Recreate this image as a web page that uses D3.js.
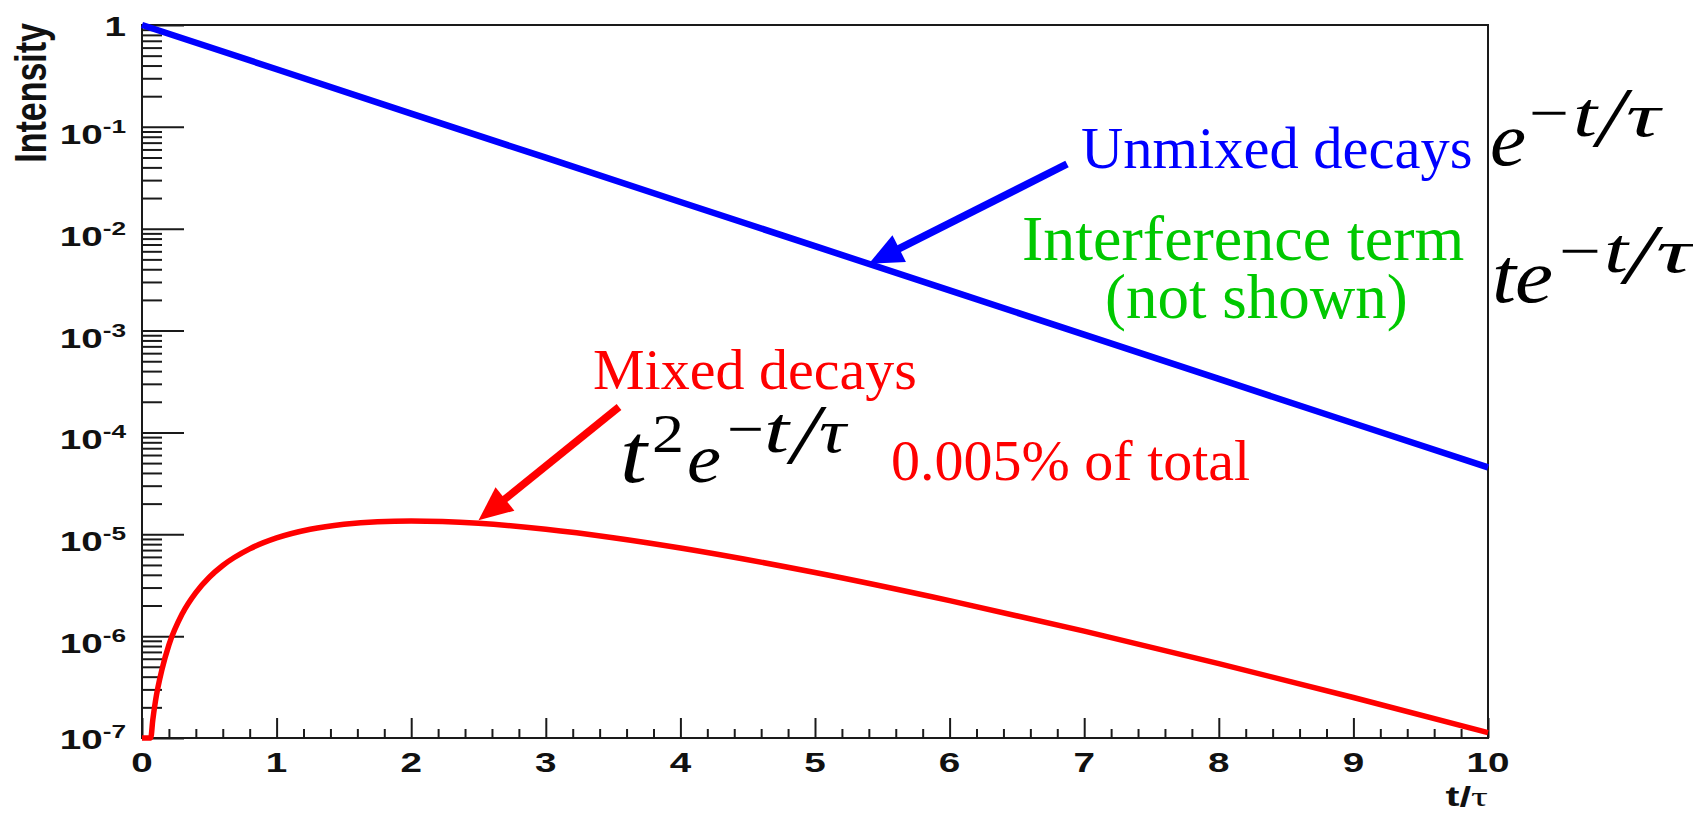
<!DOCTYPE html>
<html>
<head>
<meta charset="utf-8">
<title>Unmixed and mixed decays</title>
<script src="https://cdn.jsdelivr.net/npm/d3@7"></script>
<style>
  html, body { margin: 0; padding: 0; background: #ffffff; }
  svg { display: block; }
</style>
</head>
<body>
<svg id="chart" width="1693" height="813"></svg>
<script>
// ---- data -------------------------------------------------------------
// unmixed decay intensity, e^{-t/tau}
const unmixedT = [0, 1, 2, 3, 4, 5, 6, 7, 8, 9, 10];
const unmixedI = [1, 0.368, 0.135, 0.0498, 0.0183, 0.00674, 0.00248, 0.000912, 0.000335, 0.000123, 0.0000454];

// mixed decay intensity, t^2 e^{-t/tau} (0.005% of total)
const mixedT = [0, 0.05, 0.065, 0.08, 0.1, 0.15, 0.2, 0.3, 0.4, 0.5, 0.6, 0.8, 1.0, 1.25, 1.5, 1.75,
                2.0, 2.5, 3.0, 3.5, 4.0, 5.0, 6.0, 7.0, 8.0, 9.0, 10.0];
const mixedI = [0, 6.0e-8, 1.0e-7, 1.5e-7, 2.3e-7, 4.8e-7, 8.2e-7, 1.67e-6, 2.68e-6, 3.79e-6, 4.94e-6,
                7.19e-6, 9.2e-6, 1.12e-5, 1.255e-5, 1.33e-5, 1.35e-5, 1.28e-5, 1.12e-5, 9.25e-6,
                7.33e-6, 4.21e-6, 2.23e-6, 1.12e-6, 5.37e-7, 2.5e-7, 1.13e-7];

// axis ticks
const xMajor = [0, 1, 2, 3, 4, 5, 6, 7, 8, 9, 10];
const xLabels = ["0", "1", "2", "3", "4", "5", "6", "7", "8", "9", "10"];
const yMajor = [1, 1e-1, 1e-2, 1e-3, 1e-4, 1e-5, 1e-6, 1e-7];
const yExponents = ["", "-1", "-2", "-3", "-4", "-5", "-6", "-7"];
const yMinorMultipliers = [2, 3, 4, 5, 6, 7, 8, 9];

// ---- layout -----------------------------------------------------------
const frame = { left: 142, right: 1488, top: 25, bottom: 738 };
const AXIS_COLOR = "#1a1a1a";
const SANS = "'Liberation Sans', Arial, Helvetica, sans-serif";
const SERIF = "'Liberation Serif', 'Times New Roman', Times, serif";
const LABEL_STRETCH = 1.38;   // tick labels are drawn wide
const BLUE = "#0000ff", RED = "#ff0000", GREEN = "#00c800";

const svg = d3.select("#chart");

const x = d3.scaleLinear().domain([0, 10]).range([frame.left, frame.right]);
const y = d3.scaleLog().domain([1e-7, 1]).range([frame.bottom, frame.top]);
const yMin = y.domain()[0];

// ---- frame ------------------------------------------------------------
svg.append("rect")
  .attr("x", frame.left).attr("y", frame.top)
  .attr("width", frame.right - frame.left).attr("height", frame.bottom - frame.top)
  .attr("fill", "none").attr("stroke", AXIS_COLOR).attr("stroke-width", 2);

// ---- y axis ticks (pointing into the frame) ---------------------------
const yMinor = [];
yMajor.slice(0, -1).forEach(d => yMinorMultipliers.forEach(m => yMinor.push(d * m / 10)));

function styleTicks(g) {
  g.select(".domain").remove();
  g.selectAll(".tick line").attr("stroke", AXIS_COLOR).attr("stroke-width", 2);
  g.selectAll(".tick text").remove();
}

svg.append("g")
  .attr("transform", `translate(${frame.left},0)`)
  .call(d3.axisLeft(y).tickValues(yMajor).tickSize(-42).tickFormat(""))
  .call(styleTicks);
svg.append("g")
  .attr("transform", `translate(${frame.left},0)`)
  .call(d3.axisLeft(y).tickValues(yMinor).tickSize(-20).tickFormat(""))
  .call(styleTicks);

// ---- x axis ticks (pointing up) ---------------------------------------
const xMinor = [];
xMajor.slice(0, -1).forEach(d => [0.2, 0.4, 0.6, 0.8].forEach(f => xMinor.push(d + f)));

svg.append("g")
  .attr("transform", `translate(0,${frame.bottom})`)
  .call(d3.axisBottom(x).tickValues(xMajor).tickSize(-20).tickFormat(""))
  .call(styleTicks);
svg.append("g")
  .attr("transform", `translate(0,${frame.bottom})`)
  .call(d3.axisBottom(x).tickValues(xMinor).tickSize(-9).tickFormat(""))
  .call(styleTicks);

// ---- tick labels ------------------------------------------------------
// widen a text element horizontally while keeping its glyph height
function widen(sel, factor) {
  const w = sel.node().getComputedTextLength();
  sel.attr("textLength", w * factor).attr("lengthAdjust", "spacingAndGlyphs");
}

const yLab = svg.append("g").attr("font-family", SANS).attr("font-weight", "bold").attr("fill", "#111");
yMajor.forEach((v, i) => {
  const edge = (i === 0 || i === yMajor.length - 1);
  const t = yLab.append("text")
    .attr("x", 126).attr("y", y(v) + (edge ? 11 : 17))
    .attr("text-anchor", "end").attr("font-size", 28);
  if (yExponents[i] === "") {
    t.text("1");
  } else {
    t.append("tspan").text("10");
    t.append("tspan").attr("font-size", 19).attr("dy", -11).text(yExponents[i]);
  }
  widen(t, LABEL_STRETCH);
});

const xLab = svg.append("g").attr("font-family", SANS).attr("font-weight", "bold").attr("fill", "#111");
xMajor.forEach((v, i) => {
  const t = xLab.append("text")
    .attr("x", x(v)).attr("y", 772)
    .attr("text-anchor", "middle").attr("font-size", 28).text(xLabels[i]);
  widen(t, LABEL_STRETCH);
});

// axis titles
const xt = svg.append("text")
  .attr("x", frame.right).attr("y", 806)
  .attr("text-anchor", "end").attr("font-size", 28).attr("fill", "#111");
xt.append("tspan").attr("font-family", SANS).attr("font-weight", "bold").text("t/");
xt.append("tspan").attr("font-family", SERIF).text("τ");
widen(xt, 1.5);

svg.append("g")
  .attr("transform", `translate(46,23) scale(1.28,1) rotate(-90)`)
  .append("text")
  .attr("text-anchor", "end")
  .attr("font-family", SANS).attr("font-weight", "bold").attr("font-size", 34)
  .attr("fill", "#111")
  .text("Intensity");

// ---- curves -----------------------------------------------------------
const clampY = v => y(Math.max(v, yMin));

const unmixedLine = d3.line()
  .x((d, i) => x(unmixedT[i]))
  .y(d => clampY(d))
  .curve(d3.curveLinear);

const mixedLine = d3.line()
  .x((d, i) => x(mixedT[i]))
  .y(d => clampY(d))
  .curve(d3.curveMonotoneX);

svg.append("path")
  .datum(unmixedI)
  .attr("d", unmixedLine)
  .attr("fill", "none").attr("stroke", BLUE).attr("stroke-width", 6.5)
  .attr("stroke-linejoin", "round");

svg.append("path")
  .datum(mixedI)
  .attr("d", mixedLine)
  .attr("fill", "none").attr("stroke", RED).attr("stroke-width", 5.5)
  .attr("stroke-linejoin", "round");

// ---- arrows -----------------------------------------------------------
function arrow(from, to, color) {
  const dx = to[0] - from[0], dy = to[1] - from[1];
  const len = Math.hypot(dx, dy), ux = dx / len, uy = dy / len;
  const headLen = 34, headHalf = 15;
  const bx = to[0] - ux * headLen, by = to[1] - uy * headLen;
  svg.append("line")
    .attr("x1", from[0]).attr("y1", from[1]).attr("x2", bx + ux * 4).attr("y2", by + uy * 4)
    .attr("stroke", color).attr("stroke-width", 7.5);
  svg.append("path")
    .attr("d", `M${to[0]},${to[1]} L${bx - uy * headHalf},${by + ux * headHalf} L${bx + uy * headHalf},${by - ux * headHalf} Z`)
    .attr("fill", color);
}

// value on the unmixed line between two samples (log-linear along the straight segment)
function unmixedAt(t) {
  const i = Math.min(Math.floor(t), unmixedT.length - 2);
  const f = (t - unmixedT[i]) / (unmixedT[i + 1] - unmixedT[i]);
  return Math.pow(10, Math.log10(unmixedI[i]) * (1 - f) + Math.log10(unmixedI[i + 1]) * f);
}

arrow([1067, 164], [x(5.4), y(unmixedAt(5.4))], BLUE);
arrow([619, 407], [x(2.5), y(mixedI[mixedT.indexOf(2.5)]) - 3], RED);

// ---- annotations ------------------------------------------------------
// one text element built from runs: [text, x, baseline, size, width|null, italic, colour]
function runs(parts) {
  const t = svg.append("text").attr("font-family", SERIF);
  parts.forEach(([s, px, py, size, width, italic, color]) => {
    const sp = t.append("tspan")
      .attr("x", px).attr("y", py)
      .attr("font-size", size)
      .attr("font-style", italic ? "italic" : "normal")
      .attr("fill", color || "#000")
      .text(s);
    if (width) sp.attr("textLength", width).attr("lengthAdjust", "spacingAndGlyphs");
  });
  return t;
}

runs([["Unmixed decays", 1081, 168, 58.5, null, false, BLUE]]);

runs([
  ["Interference term", 1022, 260, 64, null, false, GREEN],
  ["(not shown)", 1105, 318, 63, null, false, GREEN]
]);

runs([["0.005% of total", 891, 480, 58, null, false, RED]]);

// e^{-t/tau}
runs([
  ["e", 1490, 165, 76, 36, true],
  ["\u2212", 1529, 133, 60, 40, false],
  ["t", 1573, 136, 64, 24, true],
  ["/", 1597, 146, 84, 28, true],
  ["\u03c4", 1626, 136, 62, 34, true]
]);

// t e^{-t/tau}
runs([
  ["t", 1492, 302, 78, 24, true],
  ["e", 1515, 302, 76, 38, true],
  ["\u2212", 1559, 271, 60, 42, false],
  ["t", 1604, 272, 64, 24, true],
  ["/", 1625, 283, 84, 30, true],
  ["\u03c4", 1656, 272, 62, 36, true]
]);

// Mixed decays, t^2 e^{-t/tau}
runs([
  ["Mixed decays", 593, 389, 58, null, false, RED],
  ["t", 620, 482, 84, 27, true],
  ["2", 652, 452, 54, 32, false],
  ["e", 687, 482, 70, 34, true],
  ["\u2212", 727, 449, 60, 37, false],
  ["t", 764, 452, 66, 25, true],
  ["/", 791, 463, 84, 28, true],
  ["\u03c4", 819, 452, 62, 27, true]
]);
</script>
</body>
</html>
